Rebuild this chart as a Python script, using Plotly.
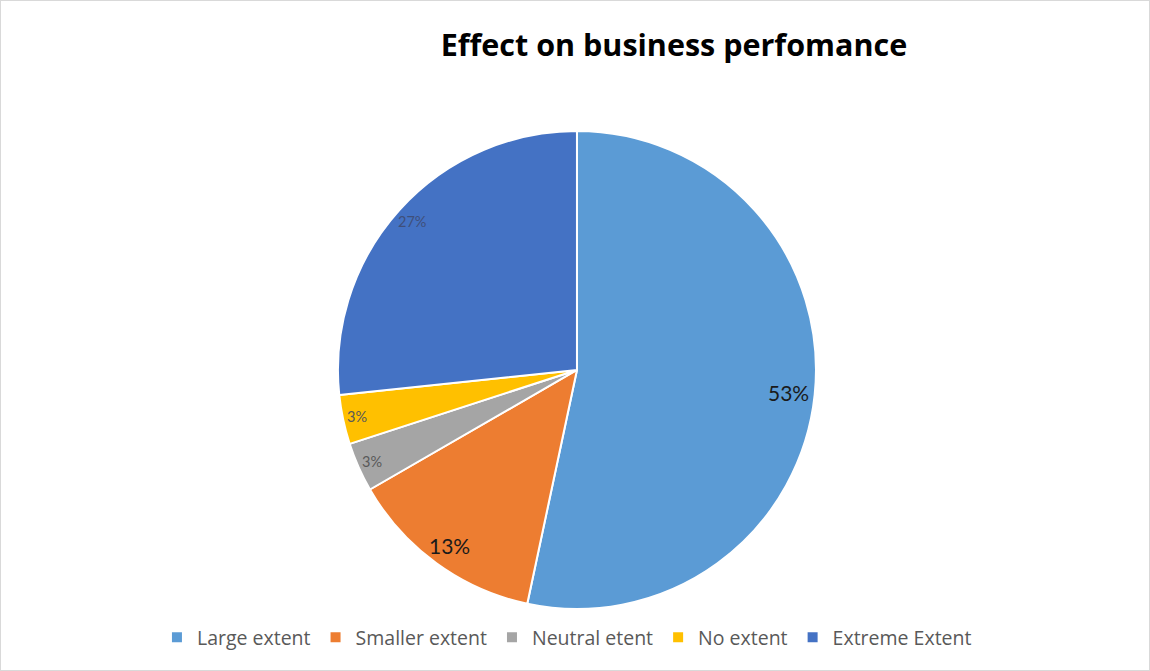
import math
import plotly.graph_objects as go

categories = ["Large extent", "Smaller extent", "Neutral etent", "No extent", "Extreme Extent"]
counts = [16, 4, 1, 1, 8]
colors = ["#5B9BD5", "#ED7D31", "#A5A5A5", "#FFC000", "#4472C4"]
text_sizes = [21, 21, 14.5, 14.5, 14.5]
text_colors = ["#1A1A1A", "#1A1A1A", "#595959", "#595959", "#3F4F7A"]
label_radius = [0.89, 0.91, 0.94, 0.94, 0.93]

W, H = 1150, 671
dom_x = [0.2017, 0.8017]
dom_y = [0.0924, 0.8048]

fig = go.Figure(go.Pie(
    labels=categories,
    values=counts,
    sort=False,
    direction="clockwise",
    rotation=0,
    marker=dict(colors=colors, line=dict(color="white", width=2)),
    textinfo="none",
    domain=dict(x=dom_x, y=dom_y),
    hoverinfo="label+percent",
))

# data labels placed near the rim of each slice (computed from the values)
total = sum(counts)
cx = (dom_x[0] + dom_x[1]) / 2 * W
cy = (1 - (dom_y[0] + dom_y[1]) / 2) * H
R = (dom_y[1] - dom_y[0]) * H / 2
annotations = []
cum = 0
for v, s, c, rf in zip(counts, text_sizes, text_colors, label_radius):
    mid = (cum + v / 2) / total * 2 * math.pi
    cum += v
    px = cx + rf * R * math.sin(mid)
    py = cy - rf * R * math.cos(mid)
    annotations.append(dict(
        x=px / W, y=1 - py / H, xref="paper", yref="paper",
        text=f"{round(100 * v / total)}%", showarrow=False,
        font=dict(family="Lato", size=s, color=c),
        xanchor="center", yanchor="middle",
    ))

fig.update_layout(
    width=W, height=H,
    margin=dict(l=0, r=0, t=0, b=0),
    paper_bgcolor="white",
    title=dict(text="<b>Effect on business perfomance</b>", x=0.586, xanchor="center",
               y=0.933, yanchor="middle",
               font=dict(family="Open Sans", size=30.5, color="#000000")),
    legend=dict(orientation="h", x=0.493, xanchor="center", y=0.05, yanchor="middle",
                font=dict(family="Open Sans", size=19.5, color="#595959"),
                itemwidth=30, traceorder="normal"),
    annotations=annotations,
    shapes=[dict(type="rect", xref="paper", yref="paper", x0=0, y0=0, x1=1, y1=1,
                 line=dict(color="#D9D9D9", width=2))],
)

fig.write_html("out.html", config={"displayModeBar": False},
               post_script="document.body.style.margin='0';")
